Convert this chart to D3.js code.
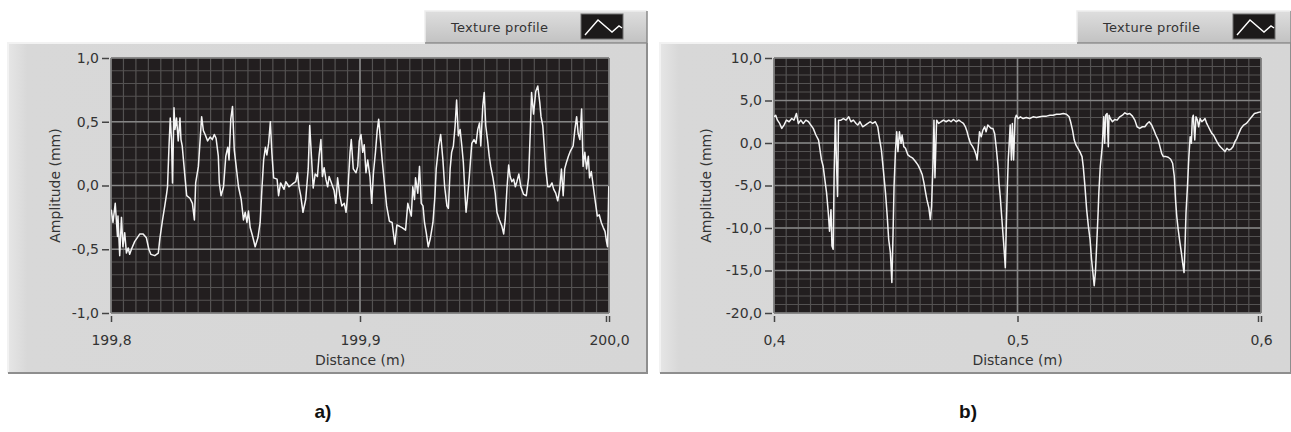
<!DOCTYPE html>
<html>
<head>
<meta charset="utf-8">
<script src="https://cdn.jsdelivr.net/npm/d3@7"></script>
<style>
  body { margin: 0; background: #fff; }
  svg { display: block; font-family: "DejaVu Sans", sans-serif; }
</style>
</head>
<body>
<svg id="chart" width="1291" height="432"></svg>
<script>
// Texture profile a) : [distance (m), amplitude (mm)]
const profileA = [
  [199.8001,-0.19],[199.8008,-0.29],[199.8017,-0.14],[199.8026,-0.40],[199.8028,-0.24],[199.8035,-0.55],[199.8042,-0.25],[199.8048,-0.48],
  [199.8055,-0.37],[199.8062,-0.53],[199.8069,-0.49],[199.8075,-0.54],[199.8082,-0.50],[199.8095,-0.44],[199.8116,-0.38],[199.8129,-0.38],
  [199.8142,-0.41],[199.8152,-0.50],[199.8160,-0.54],[199.8176,-0.55],[199.8190,-0.53],[199.8196,-0.42],[199.8207,-0.27],[199.8216,-0.16],
  [199.8223,-0.07],[199.8227,-0.01],[199.8233,0.31],[199.8238,0.53],[199.8243,0.36],[199.8247,0.02],[199.8253,0.61],[199.8257,0.44],
  [199.8263,0.53],[199.8270,0.35],[199.8277,0.53],[199.8281,0.36],[199.8286,0.31],[199.8297,0.07],[199.8304,-0.08],[199.8317,-0.10],
  [199.8327,-0.14],[199.8335,-0.27],[199.8340,0.02],[199.8351,0.15],[199.8358,0.36],[199.8364,0.54],[199.8371,0.43],[199.8378,0.40],
  [199.8388,0.35],[199.8398,0.38],[199.8407,0.36],[199.8415,0.40],[199.8422,0.37],[199.8431,0.23],[199.8435,0.02],[199.8442,-0.08],
  [199.8452,-0.01],[199.8461,0.23],[199.8469,0.30],[199.8474,0.20],[199.8481,0.52],[199.8488,0.62],[199.8495,0.28],[199.8501,0.18],
  [199.8512,-0.01],[199.8523,-0.11],[199.8532,-0.27],[199.8539,-0.21],[199.8546,-0.29],[199.8552,-0.20],[199.8559,-0.33],[199.8569,-0.40],
  [199.8579,-0.48],[199.8590,-0.41],[199.8599,-0.29],[199.8606,-0.03],[199.8613,0.20],[199.8620,0.30],[199.8626,0.24],[199.8633,0.33],
  [199.8640,0.50],[199.8646,0.26],[199.8653,0.06],[199.8667,0.05],[199.8673,-0.08],[199.8681,0.02],[199.8695,-0.03],[199.8702,0.03],
  [199.8715,-0.01],[199.8728,0.01],[199.8742,0.03],[199.8749,0.10],[199.8755,-0.01],[199.8762,-0.08],[199.8771,-0.21],[199.8782,-0.11],
  [199.8792,0.13],[199.8798,0.47],[199.8805,0.23],[199.8812,-0.02],[199.8820,0.09],[199.8829,0.07],[199.8836,0.24],[199.8843,0.36],
  [199.8849,0.07],[199.8856,0.14],[199.8863,0.05],[199.8870,-0.01],[199.8876,0.07],[199.8887,0.01],[199.8896,-0.04],[199.8903,-0.14],
  [199.8910,0.06],[199.8919,-0.08],[199.8927,-0.16],[199.8937,-0.14],[199.8944,-0.21],[199.8950,-0.08],[199.8960,0.26],[199.8965,0.36],
  [199.8973,0.13],[199.8984,0.10],[199.8991,0.15],[199.8997,0.35],[199.9004,0.40],[199.9011,0.26],[199.9017,0.32],[199.9024,0.10],
  [199.9031,0.20],[199.9040,0.07],[199.9047,-0.14],[199.9054,0.10],[199.9062,0.26],[199.9069,0.43],[199.9075,0.52],[199.9082,0.36],
  [199.9089,0.20],[199.9098,0.02],[199.9107,-0.16],[199.9118,-0.28],[199.9129,-0.29],[199.9134,-0.37],[199.9140,-0.46],[199.9148,-0.31],
  [199.9159,-0.32],[199.9169,-0.33],[199.9183,-0.35],[199.9192,-0.14],[199.9199,-0.19],[199.9206,-0.24],[199.9212,-0.01],[199.9219,-0.11],
  [199.9223,0.06],[199.9232,-0.06],[199.9239,0.15],[199.9246,-0.14],[199.9253,-0.16],[199.9259,-0.29],[199.9266,-0.37],[199.9274,-0.48],
  [199.9282,-0.42],[199.9293,-0.29],[199.9301,-0.08],[199.9306,0.13],[199.9316,0.31],[199.9324,0.40],[199.9333,0.20],[199.9340,-0.01],
  [199.9349,-0.16],[199.9355,-0.18],[199.9362,0.13],[199.9368,0.26],[199.9375,0.31],[199.9382,0.47],[199.9388,0.67],[199.9395,0.39],
  [199.9402,0.44],[199.9409,0.31],[199.9415,0.18],[199.9422,-0.08],[199.9426,-0.21],[199.9431,-0.11],[199.9439,0.07],[199.9449,0.33],
  [199.9458,0.36],[199.9466,0.33],[199.9473,0.44],[199.9480,0.49],[199.9485,0.31],[199.9493,0.62],[199.9499,0.73],[199.9505,0.47],
  [199.9512,0.36],[199.9519,0.23],[199.9525,0.15],[199.9534,0.06],[199.9543,-0.06],[199.9550,-0.21],[199.9560,-0.27],[199.9570,-0.32],
  [199.9577,-0.38],[199.9583,-0.27],[199.9590,-0.03],[199.9597,0.16],[199.9603,0.07],[199.9610,0.03],[199.9617,0.05],[199.9624,-0.01],
  [199.9630,0.03],[199.9638,0.09],[199.9646,-0.01],[199.9657,-0.07],[199.9668,-0.08],[199.9677,0.06],[199.9684,0.43],[199.9689,0.73],
  [199.9697,0.56],[199.9706,0.74],[199.9714,0.78],[199.9722,0.65],[199.9727,0.54],[199.9734,0.47],[199.9740,0.31],[199.9746,0.13],
  [199.9754,-0.01],[199.9762,-0.01],[199.9771,0.02],[199.9778,-0.03],[199.9786,-0.06],[199.9794,-0.12],[199.9802,-0.03],[199.9809,0.13],
  [199.9816,-0.08],[199.9822,0.13],[199.9829,0.18],[199.9837,0.23],[199.9845,0.27],[199.9856,0.31],[199.9863,0.44],[199.9870,0.54],
  [199.9876,0.41],[199.9883,0.36],[199.9890,0.60],[199.9896,0.15],[199.9903,0.26],[199.9910,0.13],[199.9917,0.23],[199.9922,0.06],
  [199.9929,0.11],[199.9937,-0.01],[199.9946,-0.14],[199.9953,-0.24],[199.9961,-0.23],[199.9969,-0.29],[199.9977,-0.33],[199.9984,-0.36],
  [199.9990,-0.44],[199.9994,-0.48],[199.9997,-0.24],[199.9999,-0.01],[200.0000,-0.11]
];

// Texture profile b) : [distance (m), amplitude (mm)]
const profileB = [
  [0.4000,3.08],[0.4007,3.27],[0.4014,2.69],[0.4023,2.30],[0.4032,1.72],[0.4041,2.11],[0.4051,2.69],[0.4062,2.50],
  [0.4073,2.88],[0.4082,2.69],[0.4092,3.47],[0.4100,2.30],[0.4110,2.69],[0.4120,2.30],[0.4131,2.69],[0.4142,2.50],
  [0.4151,2.11],[0.4161,1.72],[0.4172,0.94],[0.4183,0.35],[0.4188,-0.62],[0.4195,-1.99],[0.4202,-2.77],[0.4209,-4.33],
  [0.4216,-5.89],[0.4223,-8.23],[0.4228,-10.37],[0.4234,-7.84],[0.4238,-12.12],[0.4243,-12.51],[0.4247,-3.55],[0.4252,2.88],
  [0.4257,-2.77],[0.4261,-6.28],[0.4265,2.69],[0.4275,2.69],[0.4285,2.88],[0.4296,2.69],[0.4307,3.08],[0.4316,2.50],
  [0.4326,2.69],[0.4337,2.30],[0.4344,2.11],[0.4353,2.50],[0.4364,1.91],[0.4375,2.11],[0.4385,2.30],[0.4395,2.50],
  [0.4405,2.30],[0.4416,2.50],[0.4426,1.91],[0.4433,0.55],[0.4441,-0.82],[0.4449,-3.16],[0.4458,-5.89],[0.4465,-8.62],
  [0.4471,-11.35],[0.4478,-12.90],[0.4484,-16.41],[0.4489,-10.57],[0.4493,-5.11],[0.4499,-0.82],[0.4504,1.33],[0.4509,-1.01],
  [0.4515,1.33],[0.4522,-0.04],[0.4526,0.94],[0.4533,-0.43],[0.4540,-0.62],[0.4550,-1.40],[0.4559,-1.60],[0.4570,-1.79],
  [0.4581,-2.18],[0.4591,-2.57],[0.4601,-3.16],[0.4609,-3.74],[0.4616,-4.72],[0.4623,-5.89],[0.4628,-6.67],[0.4636,-7.64],
  [0.4642,-9.01],[0.4647,-7.45],[0.4653,-2.38],[0.4657,2.69],[0.4661,-4.10],[0.4667,1.91],[0.4668,2.69],[0.4676,2.30],
  [0.4686,2.50],[0.4696,2.69],[0.4707,2.50],[0.4718,2.69],[0.4727,2.50],[0.4737,2.77],[0.4748,2.50],[0.4759,2.69],
  [0.4768,2.50],[0.4778,2.30],[0.4786,1.91],[0.4793,1.33],[0.4800,0.55],[0.4807,-0.04],[0.4816,-0.43],[0.4823,-0.82],
  [0.4830,-1.40],[0.4834,-1.99],[0.4840,-0.04],[0.4844,1.33],[0.4851,0.74],[0.4858,1.52],[0.4865,1.91],[0.4871,1.33],
  [0.4878,2.11],[0.4885,1.91],[0.4892,1.72],[0.4899,1.72],[0.4906,1.13],[0.4913,-0.62],[0.4920,-2.77],[0.4924,-4.72],
  [0.4929,-6.28],[0.4935,-8.62],[0.4940,-10.57],[0.4944,-12.12],[0.4950,-14.66],[0.4954,-9.78],[0.4958,-5.50],[0.4962,-1.99],
  [0.4966,-0.04],[0.4970,2.11],[0.4975,-1.99],[0.4979,2.30],[0.4984,-1.99],[0.4990,2.88],[0.4995,3.27],[0.5003,2.88],
  [0.5012,3.08],[0.5023,2.88],[0.5036,3.00],[0.5050,2.88],[0.5064,3.08],[0.5078,3.00],[0.5091,3.08],[0.5105,3.16],
  [0.5119,3.16],[0.5133,3.27],[0.5146,3.27],[0.5160,3.39],[0.5174,3.39],[0.5188,3.47],[0.5201,3.39],[0.5212,3.08],
  [0.5218,2.50],[0.5226,1.52],[0.5233,0.35],[0.5240,-0.23],[0.5248,-0.62],[0.5256,-1.01],[0.5265,-1.60],[0.5270,-2.77],
  [0.5277,-5.11],[0.5284,-7.84],[0.5291,-9.78],[0.5298,-11.35],[0.5304,-13.68],[0.5311,-15.63],[0.5315,-16.80],[0.5320,-15.24],
  [0.5325,-12.12],[0.5331,-8.23],[0.5334,-5.89],[0.5340,-2.77],[0.5348,-0.43],[0.5354,3.08],[0.5358,-0.04],[0.5362,3.27],
  [0.5368,3.47],[0.5373,-0.43],[0.5376,3.27],[0.5381,2.88],[0.5390,2.50],[0.5399,2.77],[0.5409,2.69],[0.5420,3.08],
  [0.5431,3.27],[0.5441,3.55],[0.5450,3.39],[0.5461,3.47],[0.5472,3.16],[0.5482,2.69],[0.5491,1.91],[0.5502,1.72],
  [0.5513,1.91],[0.5523,1.91],[0.5533,2.30],[0.5541,2.50],[0.5551,2.11],[0.5560,1.52],[0.5568,0.94],[0.5578,0.35],
  [0.5585,-0.43],[0.5592,-1.21],[0.5599,-1.60],[0.5610,-1.60],[0.5619,-1.68],[0.5629,-1.91],[0.5637,-2.38],[0.5644,-3.94],
  [0.5649,-6.67],[0.5654,-8.62],[0.5660,-10.18],[0.5667,-11.73],[0.5673,-12.90],[0.5678,-14.07],[0.5684,-15.24],[0.5688,-12.12],
  [0.5692,-8.23],[0.5698,-5.11],[0.5703,-1.99],[0.5709,0.74],[0.5714,-0.04],[0.5718,2.88],[0.5722,3.27],[0.5728,0.35],
  [0.5733,3.08],[0.5739,2.69],[0.5744,1.91],[0.5750,2.88],[0.5757,2.50],[0.5764,2.69],[0.5770,2.88],[0.5777,2.30],
  [0.5784,1.91],[0.5791,1.52],[0.5798,1.13],[0.5805,0.94],[0.5812,0.55],[0.5819,0.16],[0.5827,-0.23],[0.5835,-0.51],
  [0.5843,-0.74],[0.5852,-1.01],[0.5860,-0.62],[0.5868,-0.82],[0.5876,-0.74],[0.5885,-0.43],[0.5893,0.16],[0.5901,0.55],
  [0.5909,1.13],[0.5918,1.72],[0.5929,2.11],[0.5940,2.30],[0.5951,2.69],[0.5962,3.08],[0.5973,3.47],[0.5984,3.55],
  [0.5997,3.66],[0.6000,3.66]
];

// Axis ticks
const xTicksA = [199.8, 199.9, 200.0];
const yTicksA = [1.0, 0.5, 0.0, -0.5, -1.0];
const xTicksB = [0.4, 0.5, 0.6];
const yTicksB = [10, 5, 0, -5, -10, -15, -20];

const legendLabel = "Texture profile";
const xLabel = "Distance (m)";
const yLabel = "Amplitude (mm)";

// comma decimal, plain hyphen minus
const locale = d3.formatLocale({decimal: ",", thousands: ".", grouping: [3], currency: ["", ""], minus: "-"});
const fmt = locale.format(".1f");

const svg = d3.select("#chart");
const defs = svg.append("defs");

const lg = defs.append("linearGradient").attr("id", "legendFill")
    .attr("x1", 0).attr("y1", 0).attr("x2", 0).attr("y2", 1);
lg.append("stop").attr("offset", "0%").attr("stop-color", "#dedede");
lg.append("stop").attr("offset", "100%").attr("stop-color", "#c2c2c2");

const pg = defs.append("linearGradient").attr("id", "panelFill")
    .attr("x1", 0).attr("y1", 0).attr("x2", 1).attr("y2", 0);
pg.append("stop").attr("offset", "0%").attr("stop-color", "#e6e6e6");
pg.append("stop").attr("offset", "3%").attr("stop-color", "#d8d8d8");
pg.append("stop").attr("offset", "100%").attr("stop-color", "#d6d6d6");

const panels = [
    {id: "a", data: profileA, xTicks: xTicksA, yTicks: yTicksA,
     xDomain: [199.8, 200.0], yDomain: [-1, 1], xMinor: 0.005, yMinor: 0.1,
     frame: {x: 8, y: 43, w: 639, h: 330}, legend: {x: 425, y: 11, w: 222, h: 32},
     plot: {l: 111, r: 609, t: 58, b: 313}, yLabelX: 60, caption: "a)", captionX: 323},
    {id: "b", data: profileB, xTicks: xTicksB, yTicks: yTicksB,
     xDomain: [0.4, 0.6], yDomain: [-20, 10], xMinor: 0.005, yMinor: 1,
     frame: {x: 660, y: 43, w: 631, h: 330}, legend: {x: 1077, y: 11, w: 214, h: 32},
     plot: {l: 774, r: 1261, t: 58, b: 313}, yLabelX: 711, caption: "b)", captionX: 968}
];

panels.forEach(function(p) {

    const g = svg.append("g");
    const f = p.frame;

    // Panel body with bevel
    g.append("rect").attr("x", f.x).attr("y", f.y).attr("width", f.w).attr("height", f.h)
        .attr("fill", "url(#panelFill)");
    g.append("path").attr("d", `M${f.x},${f.y + f.h}V${f.y}H${f.x + f.w}`)
        .attr("fill", "none").attr("stroke", "#f2f2f2").attr("stroke-width", 2);
    g.append("path").attr("d", `M${f.x},${f.y + f.h}H${f.x + f.w}V${f.y}`)
        .attr("fill", "none").attr("stroke", "#8e8e8e").attr("stroke-width", 2);

    // Legend
    const L = p.legend;
    g.append("rect").attr("x", L.x).attr("y", L.y).attr("width", L.w).attr("height", L.h)
        .attr("fill", "url(#legendFill)");
    g.append("path").attr("d", `M${L.x},${L.y + L.h}V${L.y}H${L.x + L.w}`)
        .attr("fill", "none").attr("stroke", "#eeeeee").attr("stroke-width", 1.5);
    g.append("path").attr("d", `M${L.x},${L.y + L.h}H${L.x + L.w}V${L.y}`)
        .attr("fill", "none").attr("stroke", "#8a8a8a").attr("stroke-width", 1.5);
    g.append("text").attr("x", L.x + 26).attr("y", L.y + 21)
        .attr("font-size", 13).attr("letter-spacing", 0.3).attr("fill", "#333").text(legendLabel);
    const icon = g.append("g").attr("transform", `translate(${L.x + 156},${L.y + 3})`);
    icon.append("rect").attr("width", 42).attr("height", 25)
        .attr("fill", "#1c1a1a").attr("stroke", "#6e6e6e");
    icon.append("path").attr("d", "M4,21L17,6L31,18L38,12L41,14")
        .attr("fill", "none").attr("stroke", "#fff").attr("stroke-width", 1.4);

    // Scales
    const pl = p.plot;
    const x = d3.scaleLinear().domain(p.xDomain).range([pl.l, pl.r]);
    const y = d3.scaleLinear().domain(p.yDomain).range([pl.b, pl.t]);

    // Plot background
    g.append("rect").attr("x", pl.l).attr("y", pl.t).attr("width", pl.r - pl.l).attr("height", pl.b - pl.t)
        .attr("fill", "#221e1f");

    // Minor grid
    const xs = d3.range(p.xDomain[0], p.xDomain[1] + p.xMinor / 2, p.xMinor);
    const ys = d3.range(p.yDomain[0], p.yDomain[1] + p.yMinor / 2, p.yMinor);
    g.append("g").selectAll("line").data(xs).join("line")
        .attr("x1", d => x(d)).attr("x2", d => x(d)).attr("y1", pl.t).attr("y2", pl.b)
        .attr("stroke", "#545252").attr("stroke-width", 1.2);
    g.append("g").selectAll("line").data(ys).join("line")
        .attr("y1", d => y(d)).attr("y2", d => y(d)).attr("x1", pl.l).attr("x2", pl.r)
        .attr("stroke", "#545252").attr("stroke-width", 1.2);

    // Major grid
    g.append("g").selectAll("line").data(p.xTicks).join("line")
        .attr("x1", d => x(d)).attr("x2", d => x(d)).attr("y1", pl.t).attr("y2", pl.b)
        .attr("stroke", "#858585").attr("stroke-width", 1.6);
    g.append("g").selectAll("line").data(p.yTicks).join("line")
        .attr("y1", d => y(d)).attr("y2", d => y(d)).attr("x1", pl.l).attr("x2", pl.r)
        .attr("stroke", "#858585").attr("stroke-width", 1.6);

    // Profile line
    defs.append("clipPath").attr("id", "clip-" + p.id)
        .append("rect").attr("x", pl.l).attr("y", pl.t).attr("width", pl.r - pl.l).attr("height", pl.b - pl.t);
    g.append("path").datum(p.data)
        .attr("clip-path", `url(#clip-${p.id})`)
        .attr("fill", "none").attr("stroke", "#f4f4f4").attr("stroke-width", 1.5)
        .attr("stroke-linejoin", "round")
        .attr("d", d3.line().x(d => x(d[0])).y(d => y(d[1])));

    // Axes
    const yAxis = d3.axisLeft(y).tickValues(p.yTicks).tickFormat(fmt).tickSize(7).tickPadding(3);
    const ya = g.append("g").attr("transform", `translate(${pl.l - 2},0)`).call(yAxis);

    const xAxis = d3.axisBottom(x).tickValues(p.xTicks).tickFormat(fmt).tickSize(6).tickPadding(13);
    const xa = g.append("g").attr("transform", `translate(0,${pl.b + 3})`).call(xAxis);
    xa.select(".tick:last-of-type").append("line")
        .attr("x1", -3).attr("x2", -3).attr("y2", 6).attr("stroke", "#444");

    [ya, xa].forEach(a => {
        a.select(".domain").remove();
        a.selectAll(".tick line").attr("stroke", "#444").attr("stroke-width", 1.5);
        a.selectAll(".tick text").attr("fill", "#333").attr("font-size", 14)
            .attr("font-family", "DejaVu Sans, sans-serif");
    });

    // Axis titles
    g.append("text").attr("x", (pl.l + pl.r) / 2).attr("y", 365)
        .attr("text-anchor", "middle").attr("font-size", 14).attr("fill", "#333").text(xLabel);
    g.append("text").attr("transform", `translate(${p.yLabelX},${(pl.t + pl.b) / 2}) rotate(-90)`)
        .attr("text-anchor", "middle").attr("font-size", 14).attr("fill", "#333").text(yLabel);

    // Caption
    g.append("text").attr("x", p.captionX).attr("y", 418).attr("text-anchor", "middle")
        .attr("font-family", "Liberation Sans, Arial, sans-serif").attr("font-weight", "bold")
        .attr("font-size", 19).attr("fill", "#111").text(p.caption);
});
</script>
</body>
</html>
